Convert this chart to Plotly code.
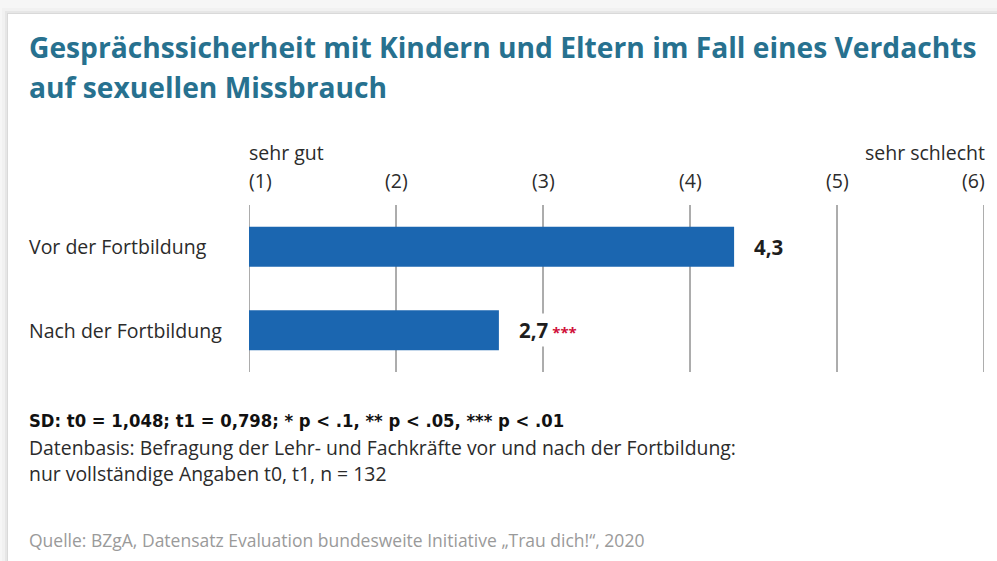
import plotly.graph_objects as go

# ---- data ----
categories = ["Vor der Fortbildung", "Nach der Fortbildung"]
values = [4.3, 2.7]
value_labels = ["4,3", "2,7"]
significance = ["", "***"]
scale_ticks = [1, 2, 3, 4, 5, 6]
scale_tick_labels = ["(1)", "(2)", "(3)", "(4)", "(5)", "(6)"]
scale_ends = ["sehr gut", "sehr schlecht"]

title_lines = ["Gesprächssicherheit mit Kindern und Eltern im Fall eines Verdachts",
               "auf sexuellen Missbrauch"]
note_bold = "SD: t0 = 1,048; t1 = 0,798; * p < .1, ** p < .05, *** p < .01"
note_lines = ["Datenbasis: Befragung der Lehr- und Fachkräfte vor und nach der Fortbildung:",
              "nur vollständige Angaben t0, t1, n = 132"]
source = "Quelle: BZgA, Datensatz Evaluation bundesweite Initiative „Trau dich!“, 2020"

# ---- layout geometry (pixels) ----
W, H = 997, 561
L, R, T, B = 249, 984, 205, 372
PW, PH = R - L, B - T


def px(xp):
    return (xp - L) / PW


def py(yp):
    return (B - yp) / PH


BAR = "#1b66b0"
TITLE = "#27718f"
TXT = "#2b2b2b"
FONT = "'Open Sans', Lato, sans-serif"
NARROW = "'DejaVu Sans Condensed', 'Open Sans', sans-serif"

fig = go.Figure()
fig.add_trace(go.Bar(
    y=categories, x=[v - scale_ticks[0] for v in values], base=scale_ticks[0],
    orientation="h", marker=dict(color=BAR, line=dict(width=0)),
    width=0.48, hoverinfo="skip", showlegend=False,
))

shapes = []
# background + card with soft shadow
for off, col in [(6, "#f1f1f1"), (3, "#e6e6e6"), (1, "#d9d9d9"), (0, "white")]:
    shapes.append(dict(type="rect", xref="paper", yref="paper", layer="below",
                       x0=px(8 - off), x1=px(W + 10), y0=py(H + 10), y1=py(14 - off),
                       fillcolor=col, line=dict(width=0)))
# grid lines
for t in scale_ticks:
    shapes.append(dict(type="line", xref="x", yref="paper", layer="below",
                       x0=t, x1=t, y0=0, y1=1, line=dict(color="#5a5a5a", width=1)))

ann = []
# title
for i, line in enumerate(title_lines):
    ann.append(dict(text=f"<b>{line}</b>", xref="paper", yref="paper",
                    x=px(27), y=py(47 + 40 * i), xanchor="left", yanchor="middle",
                    showarrow=False, font=dict(family=FONT, size=28.2, color=TITLE)))
# scale labels
for i, (t, lab) in enumerate(zip(scale_ticks, scale_tick_labels)):
    anchor = "left" if i == 0 else ("right" if i == len(scale_ticks) - 1 else "center")
    shift = -2 if i == 0 else (3 if i == len(scale_ticks) - 1 else 0)
    ann.append(dict(text=lab, xref="x", yref="paper", x=t, xshift=shift, y=py(180),
                    xanchor=anchor, yanchor="middle", showarrow=False,
                    font=dict(family=FONT, size=19.5, color=TXT)))
ann.append(dict(text=scale_ends[0], xref="x", yref="paper", x=scale_ticks[0], xshift=-2,
                y=py(152), xanchor="left", yanchor="middle", showarrow=False,
                font=dict(family=FONT, size=19.5, color=TXT)))
ann.append(dict(text=scale_ends[1], xref="x", yref="paper", x=scale_ticks[-1], xshift=3,
                y=py(152), xanchor="right", yanchor="middle", showarrow=False,
                font=dict(family=FONT, size=19.5, color=TXT)))
# category labels
for c in categories:
    ann.append(dict(text=c, xref="paper", yref="y", x=px(27), y=c,
                    xanchor="left", yanchor="middle", showarrow=False,
                    font=dict(family=FONT, size=19.5, color=TXT)))
# value labels
for c, v, vl, s in zip(categories, values, value_labels, significance):
    txt = f"<b>{vl}</b>"
    if s:
        txt += f"<span style='color:#d0103a;font-size:15px'> <b>{s}</b></span>"
    ann.append(dict(text=txt, xref="x", yref="y", x=v, xshift=17, y=c,
                    xanchor="left", yanchor="middle", showarrow=False,
                    bgcolor="white", borderpad=2,
                    font=dict(family=FONT, size=20.5, color="#1e1e1e")))
# notes
ann.append(dict(text=f"<b>{note_bold}</b>", xref="paper", yref="paper", x=px(27), y=py(420),
                xanchor="left", yanchor="middle", showarrow=False,
                font=dict(family=NARROW, size=18.3, color="#111111")))
for i, line in enumerate(note_lines):
    ann.append(dict(text=line, xref="paper", yref="paper", x=px(27), y=py(447 + 26 * i),
                    xanchor="left", yanchor="middle", showarrow=False,
                    font=dict(family=FONT, size=19.4, color="#2b2b2b")))
ann.append(dict(text=source, xref="paper", yref="paper", x=px(27), y=py(540),
                xanchor="left", yanchor="middle", showarrow=False,
                font=dict(family=FONT, size=17.5, color="#9a9a9a")))

fig.update_layout(
    width=W, height=H, autosize=False,
    margin=dict(l=L, r=W - R, t=T, b=H - B, pad=0),
    paper_bgcolor="#f6f6f6", plot_bgcolor="rgba(0,0,0,0)",
    xaxis=dict(range=[scale_ticks[0], scale_ticks[-1]], showgrid=False, zeroline=False,
               showticklabels=False, showline=False, fixedrange=True),
    yaxis=dict(categoryorder="array", categoryarray=categories, autorange="reversed",
               showgrid=False, zeroline=False, showticklabels=False, showline=False,
               fixedrange=True),
    shapes=shapes, annotations=ann, bargap=0.52,
)

fig.write_html("out.html", config={"displayModeBar": False},
               post_script="document.body.style.margin='0';document.body.style.overflow='hidden';")
